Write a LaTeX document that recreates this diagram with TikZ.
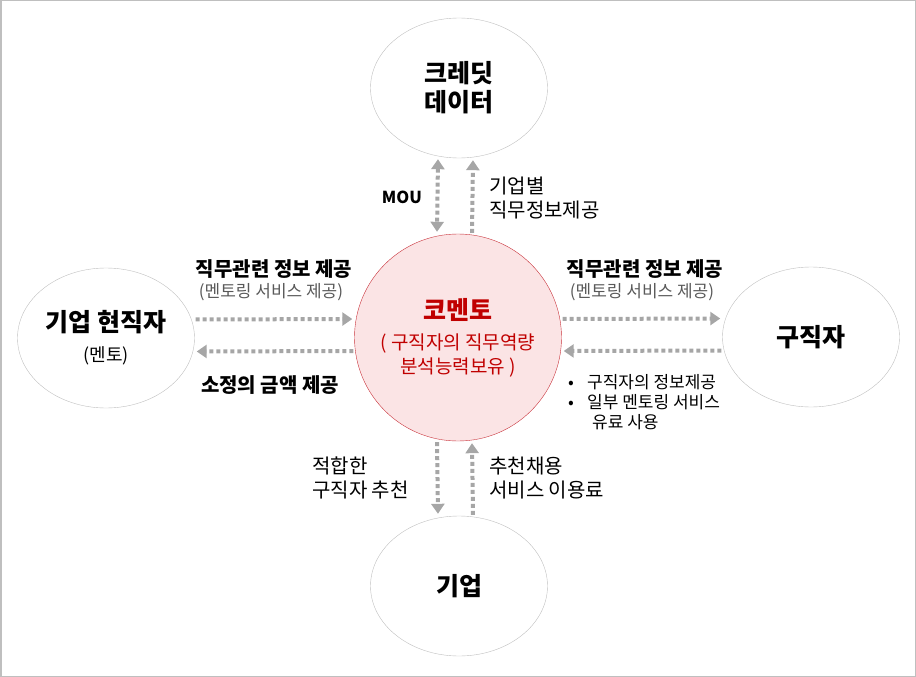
\documentclass[tikz,border=0pt]{standalone}
\usepackage{fontspec}
\setmainfont{Noto Sans CJK KR}
\usepackage{xcolor}
\definecolor{cLine}{HTML}{BFBFBF}
\definecolor{cArrow}{HTML}{A6A6A6}
\definecolor{cCore}{HTML}{C9343C}
\definecolor{cCoreFill}{HTML}{FBE4E5}
\definecolor{cCoreText}{HTML}{C00000}
\definecolor{cNote}{HTML}{595959}
\usepackage{tikz}
\usetikzlibrary{positioning,arrows.meta,shapes.geometric}
\newcommand{\fsz}[2]{\fontsize{#1}{#2}\selectfont}
\tikzset{
  node-party/.style={draw=cLine,thin,ellipse,minimum width=177pt,
    minimum height=140pt,inner sep=0pt,align=center},
  node-core/.style={draw=cCore,fill=cCoreFill,circle,minimum size=207pt,
    inner sep=0pt,align=center,text=cCoreText},
  arrow-flow/.style={-{Triangle[length=10pt,width=13pt]},line width=4pt,
    draw=cArrow,dash pattern=on 4pt off 3pt,shorten <=1pt,shorten >=2pt},
  arrow-both/.style={arrow-flow,
    {Triangle[length=10pt,width=13pt]}-{Triangle[length=10pt,width=13pt]}},
  label-bold/.style={font=\bfseries\fsz{20}{23},align=center,inner sep=0pt},
  label-plain/.style={font=\fsz{20}{23.5},align=left,inner sep=0pt},
  label-note/.style={font=\fsz{17}{20},text=cNote,align=center,inner sep=0pt},
  label-list/.style={font=\fsz{17}{20},align=left,inner sep=0pt},
}

\begin{document}
\begin{tikzpicture}[x=1pt,y=-1pt]
  \useasboundingbox (0,0) rectangle (916,677);
  \draw[cLine,line width=1.5pt] (0.75,0.75) rectangle (915.25,676.25);

  % 참여 주체
  \node[node-party,font=\bfseries\fsz{25}{29}] (credit) at (459,88) {크레딧\\데이터};
  \node[node-party,font=\fsz{18}{30}] (mentor) at (106,338)
    {{\bfseries\fsz{25}{30}기업 현직자}\\(멘토)};
  \node[node-party,font=\bfseries\fsz{25}{29}] (seeker) at (811,337) {구직자};
  \node[node-party,font=\bfseries\fsz{25}{29}] (firm) at (459,586) {기업};
  \node[node-core,font=\fsz{19}{23.5}] (comento) at (458,337.5)
    {{\bfseries\fsz{25}{23}코멘토}\\[7pt]( 구직자의 직무역량\\분석능력보유 )};

  % 위쪽 흐름
  \draw[arrow-both] ([xshift=-21pt]credit.south) -- ([xshift=-21pt]comento.north);
  \draw[arrow-flow] ([xshift=14pt]comento.north) -- ([xshift=14pt]credit.south);
  \node[label-bold,font=\bfseries\fsz{16.5}{20}] (mou) at (402,197) {MOU};
  \node[label-plain,anchor=west] (creditinfo) at (489,198) {기업별\\직무정보제공};

  % 왼쪽 흐름
  \draw[arrow-flow] ([yshift=18.5pt]mentor.east) -- ([yshift=18.5pt]comento.west);
  \draw[arrow-flow] ([yshift=-13.5pt]comento.west) -- ([yshift=-13.5pt]mentor.east);
  \node[label-bold] (leftgive) at (274,269) {직무관련 정보 제공};
  \node[label-note] (leftnote) at (271,292) {(멘토링 서비스 제공)};
  \node[label-bold] (leftpay) at (270,385) {소정의 금액 제공};

  % 오른쪽 흐름
  \draw[arrow-flow] ([yshift=18.5pt]comento.east) -- ([yshift=18.5pt]seeker.west);
  \draw[arrow-flow] ([yshift=-13.5pt]seeker.west) -- ([yshift=-13.5pt]comento.east);
  \node[label-bold] (rightgive) at (645,269) {직무관련 정보 제공};
  \node[label-note] (rightnote) at (642,292) {(멘토링 서비스 제공)};
  \node[label-list,anchor=west] (seekerlist) at (568,402)
    {\makebox[19pt][l]{•}구직자의 정보제공\\
     \makebox[19pt][l]{•}일부 멘토링 서비스\\
     \hspace*{24pt}유료 사용};

  % 아래쪽 흐름
  \draw[arrow-flow] ([xshift=-21pt]comento.south) -- ([xshift=-21pt]firm.north);
  \draw[arrow-flow] ([xshift=14pt]firm.north) -- ([xshift=14pt]comento.south);
  \node[label-plain,anchor=west] (recommend) at (312,478) {적합한\\구직자 추천};
  \node[label-plain,anchor=west] (fee) at (489,478) {추천채용\\서비스 이용료};
\end{tikzpicture}
\end{document}
